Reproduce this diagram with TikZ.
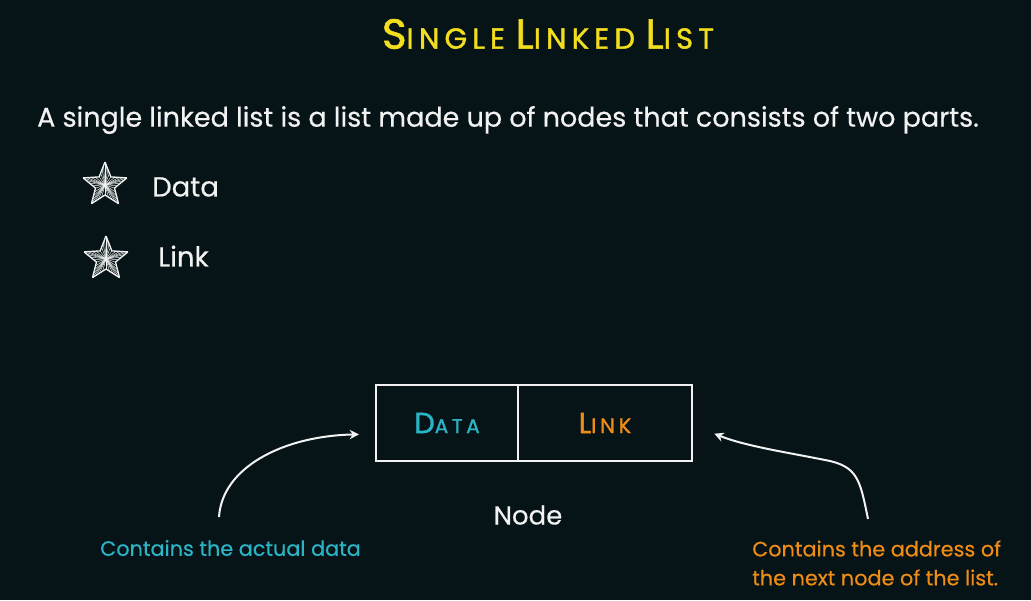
\documentclass[tikz,border=0pt]{standalone}
\usepackage{fontspec}
\setmainfont[FakeBold=0.4]{Poppins}
\newfontfamily\scfont[LetterSpace=18, FakeBold=1.2]{Poppins}
\newfontfamily\headfont[LetterSpace=18, FakeBold=1.4]{Poppins}
\usetikzlibrary{arrows.meta,calc}

\definecolor{bg}{HTML}{061417}
\definecolor{titley}{HTML}{F2DE1E}
\definecolor{datacyan}{HTML}{2BB3C6}
\definecolor{linkorange}{HTML}{EE8C16}
\definecolor{chalk}{HTML}{F2F2F2}

% font sizes given in pixels (1px = 0.75pt)
\newcommand\pxfont[1]{\fontsize{\fpeval{#1*0.75}pt}{\fpeval{#1*0.9}pt}\selectfont}

% hatched five-pointed star centred at (#1,#2)
\newcommand\hatchstar[2]{%
  \begin{scope}[shift={(#1,#2)}, yscale=-1]
    \foreach \k in {0,...,9} {
      \pgfmathsetmacro\ra{mod(\k,2)==0 ? 23 : 10}
      \pgfmathsetmacro\rb{mod(\k,2)==0 ? 10 : 23}
      \pgfmathsetmacro\aa{90+36*\k}
      \pgfmathsetmacro\ab{90+36*(\k+1)}
      \coordinate (sa) at (\aa:\ra);
      \coordinate (sb) at (\ab:\rb);
      \draw[starline, line width=1pt] (sa) -- (sb);
      \foreach \t in {0,0.25,0.5,0.75}
        \draw[starline] (0,0) -- ($(sa)!\t!(sb)$);
    }
  \end{scope}}

\begin{document}
\begin{tikzpicture}[x=0.75pt, y=-0.75pt,
    starline/.style={draw=chalk, line width=0.35pt},
    cell/.style={draw=chalk, line width=1.5pt, minimum height=76*0.75pt, inner sep=0pt},
    pointer/.style={draw=chalk, line width=1.5pt, -{Stealth[length=7pt, width=7pt]}},
    body/.style={text=chalk, inner sep=0pt}]

  \fill[bg] (0,0) rectangle (1031,600);
  \useasboundingbox (0,0) rectangle (1031,600);

  % heading in small capitals
  \node[text=titley, inner sep=0pt, font=\headfont] (title) at (548,34)
    {{\pxfont{42}S}{\pxfont{29}INGLE}\hspace{8pt}{\pxfont{42}L}{\pxfont{29}INKED}\hspace{8pt}{\pxfont{42}L}{\pxfont{29}IST}};

  \node[body, font=\pxfont{27}] (intro) at (508,120)
    {A single linked list is a list made up of nodes that consists of two parts.};

  % bullet list
  \hatchstar{105}{185}
  \hatchstar{106}{259}
  \node[body, anchor=west, font=\pxfont{27.5}] (bdata) at (152,187) {Data};
  \node[body, anchor=west, font=\pxfont{27.5}] (blink) at (158,256) {Link};

  % the node with its two fields
  \node[cell, minimum width=142*0.75pt, text=datacyan, font=\scfont] (data) at (447,423)
    {{\pxfont{29}D}{\pxfont{20}ATA}};
  \node[cell, minimum width=174*0.75pt, text=linkorange, font=\scfont] (link) at (605,423)
    {{\pxfont{29}L}{\pxfont{21}INK}};

  \node[body, font=\pxfont{26}] (nodecap) at (528,515) {Node};

  % captions
  \node[text=datacyan, inner sep=0pt, anchor=west, font=\pxfont{20.8}] (capdata) at (100,548)
    {Contains the actual data};
  \node[text=linkorange, inner sep=0pt, anchor=west, align=left, font=\pxfont{20.8}] (caplink) at (752,563)
    {Contains the address of\\[3pt]the next node of the list.};

  % pointers from the captions to the fields
  \coordinate (ldstart) at (219,517);
  \coordinate (rlstart) at (868,519);
  \draw[pointer] (ldstart) .. controls (222,468) and (282,436) .. ([xshift=-12pt, yshift=-8.5pt]data.west);
  \draw[pointer] (rlstart) .. controls (860,480) and (858,466) .. (825,460)
    .. controls (785,452) and (745,446) .. ([xshift=16pt, yshift=-8pt]link.east);
\end{tikzpicture}
\end{document}
